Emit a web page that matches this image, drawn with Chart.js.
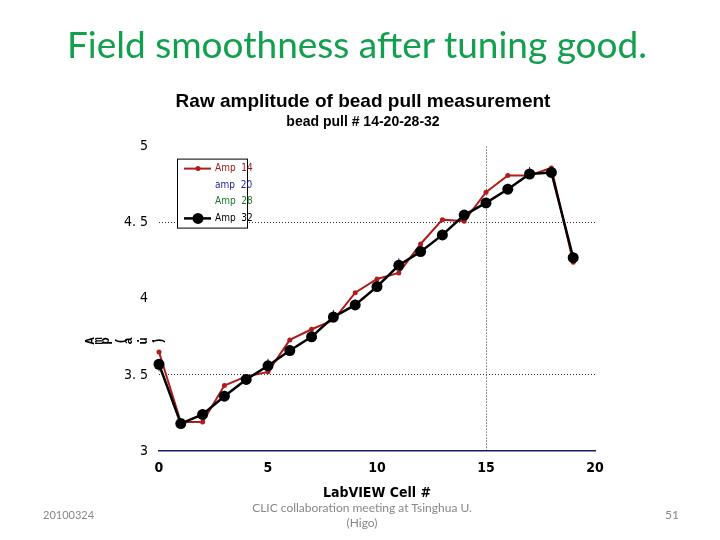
<!DOCTYPE html>
<html>
<head>
<meta charset="utf-8">
<script src="https://cdn.jsdelivr.net/npm/chart.js@4/dist/chart.umd.min.js"></script>
<style>
  html, body { margin: 0; padding: 0; background: #fff; }
  #page { position: relative; width: 720px; height: 540px; overflow: hidden; }
  #chart { position: absolute; left: 0; top: 0; }
  .txt { position: absolute; white-space: nowrap; font-family: Lato, "Open Sans", sans-serif; }
  #slideTitle { left: 0; width: 714px; top: 21px; text-align: center; font-size: 37px; color: #12a04e; }
  #date { left: 43px; top: 508px; font-size: 11px; color: #888; }
  #meeting { left: 0; width: 724px; top: 500px; text-align: center; font-size: 12px; color: #888; line-height: 15px; }
  #pageNo { left: 665px; top: 507px; font-size: 12px; color: #888; }
</style>
</head>
<body>
<div id="page">
  <canvas id="chart" width="720" height="540"></canvas>
  <div class="txt" id="slideTitle">Field smoothness after tuning good.</div>
  <div class="txt" id="date">20100324</div>
  <div class="txt" id="meeting">CLIC collaboration meeting at Tsinghua U.<br>(Higo)</div>
  <div class="txt" id="pageNo">51</div>
</div>
<script>
// bead pull data
var cells = [0, 1, 2, 3, 4, 5, 6, 7, 8, 9, 10, 11, 12, 13, 14, 15, 16, 17, 18, 19];
var amp14 = [3.65, 3.19, 3.19, 3.43, 3.49, 3.52, 3.73, 3.80, 3.86, 4.04, 4.13, 4.17, 4.36, 4.52, 4.51, 4.70, 4.81, 4.81, 4.86, 4.24];
var amp20 = [3.55, 3.18, 3.25, 3.37, 3.48, 3.58, 3.67, 3.77, 3.90, 3.97, 4.10, 4.24, 4.32, 4.43, 4.55, 4.63, 4.73, 4.84, 4.83, 4.28];
var amp28 = [3.56, 3.19, 3.23, 3.36, 3.46, 3.56, 3.65, 3.76, 3.89, 3.95, 4.09, 4.23, 4.31, 4.42, 4.54, 4.62, 4.72, 4.83, 4.82, 4.27];
var amp32 = [3.57, 3.18, 3.24, 3.36, 3.47, 3.56, 3.66, 3.75, 3.88, 3.96, 4.08, 4.22, 4.31, 4.42, 4.55, 4.63, 4.72, 4.82, 4.83, 4.27];
var yTicks = [3, 3.5, 4, 4.5, 5];
var xTicks = [0, 5, 10, 15, 20];
var yGridAt = [3.5, 4.5];
var xGridAt = [15];

function pts(arr) {
    return cells.map(function (c, i) { return { x: c, y: arr[i] }; });
}

// legend box drawn inside the plot, like the LabVIEW one
var boxLegend = {
    id: 'boxLegend',
    afterDatasetsDraw: function (chart) {
        var ctx = chart.ctx;
        var a = chart.chartArea;
        var x0 = a.left + 18, y0 = a.top + 12, w = 70, h = 69;
        ctx.save();
        ctx.fillStyle = '#fff';
        ctx.fillRect(x0, y0, w, h);
        ctx.strokeStyle = '#000';
        ctx.lineWidth = 1;
        ctx.strokeRect(x0 + 0.5, y0 + 0.5, w, h);
        ctx.font = '10px "DejaVu Sans Condensed", "Liberation Sans Narrow", sans-serif';
        ctx.textBaseline = 'middle';
        chart.data.datasets.forEach(function (ds, i) {
            var y = y0 + 10 + i * 16.6;
            if (ds.legendLine) {
                ctx.strokeStyle = ds.borderColor;
                ctx.lineWidth = ds.borderWidth;
                ctx.beginPath();
                ctx.moveTo(x0 + 7, y);
                ctx.lineTo(x0 + 34, y);
                ctx.stroke();
                ctx.fillStyle = ds.borderColor;
                ctx.beginPath();
                ctx.arc(x0 + 21, y, ds.pointRadius, 0, Math.PI * 2);
                ctx.fill();
            }
            ctx.fillStyle = ds.textColor;
            ctx.fillText(ds.label, x0 + 38, y);
        });
        ctx.restore();
    }
};

// garbled sideways y title
var yTitle = {
    id: 'yTitle',
    afterDraw: function (chart) {
        var ctx = chart.ctx;
        var s = 'Amp (a.u.)';
        ctx.save();
        ctx.font = 'bold 12px "Liberation Mono", monospace';
        ctx.fillStyle = '#000';
        ctx.textAlign = 'center';
        ctx.textBaseline = 'middle';
        var x = 91;
        for (var i = 0; i < s.length; i++) {
            ctx.save();
            ctx.translate(x, 341);
            ctx.rotate(-Math.PI / 2);
            ctx.fillText(s[i], 0, 0);
            ctx.restore();
            x += 7.5;
        }
        ctx.restore();
    }
};

var tickFont = '"DejaVu Sans Condensed", "Liberation Sans Narrow", sans-serif';

new Chart(document.getElementById('chart').getContext('2d'), {
    type: 'line',
    data: {
        datasets: [
            { label: 'Amp  14', data: pts(amp14), borderColor: '#b01c1c', backgroundColor: '#b01c1c', textColor: '#a01818',
              borderWidth: 2, pointRadius: 2.5, pointBorderWidth: 0, order: 1, clip: false, legendLine: true },
            { label: 'amp  20', data: pts(amp20), borderColor: '#1a1a8c', backgroundColor: '#1a1a8c', textColor: '#1a1a9c',
              borderWidth: 1, showLine: false, pointStyle: 'cross', pointRadius: 4, pointBorderWidth: 1, order: 2, clip: false, legendLine: false },
            { label: 'Amp  28', data: pts(amp28), borderColor: '#1a7a2a', backgroundColor: '#1a7a2a', textColor: '#1a7a2a',
              borderWidth: 1, showLine: false, pointStyle: 'crossRot', pointRadius: 3, pointBorderWidth: 1, order: 3, clip: false, legendLine: false },
            { label: 'Amp  32', data: pts(amp32), borderColor: '#000', backgroundColor: '#000', textColor: '#000',
              borderWidth: 2.5, pointRadius: 5.5, pointBorderWidth: 0, order: 0, clip: false, legendLine: true }
        ]
    },
    options: {
        responsive: false,
        animation: false,
        layout: { padding: { left: 100, right: 94, top: 90, bottom: 29 } },
        plugins: {
            legend: { display: false },
            tooltip: { enabled: false },
            title: {
                display: true,
                text: 'Raw amplitude of bead pull measurement',
                color: '#000',
                font: { family: '"Liberation Sans", Arial, sans-serif', size: 19, weight: 'bold' },
                padding: { top: 0, bottom: 1 }
            },
            subtitle: {
                display: true,
                text: 'bead pull # 14-20-28-32',
                color: '#000',
                font: { family: '"Liberation Sans", Arial, sans-serif', size: 14, weight: 'bold' },
                padding: { top: 0, bottom: 16 }
            }
        },
        scales: {
            x: {
                type: 'linear',
                min: 0,
                max: 20,
                afterFit: function (s) { s.height = 60; },
                afterBuildTicks: function (s) { s.ticks = xTicks.map(function (v) { return { value: v }; }); },
                border: { display: true, color: '#1a1a5e', width: 1.5, dash: [1, 2] },
                grid: {
                    drawTicks: false,
                    color: function (c) { return xGridAt.indexOf(c.tick && c.tick.value) >= 0 ? '#333' : 'rgba(0,0,0,0)'; }
                },
                ticks: {
                    padding: 9,
                    color: '#000',
                    font: { family: tickFont, size: 14, weight: 'bold' }
                },
                title: {
                    display: true,
                    text: 'LabVIEW Cell #',
                    color: '#000',
                    padding: { top: 0, bottom: 9 },
                    font: { family: tickFont, size: 14, weight: 'bold' }
                }
            },
            y: {
                min: 3,
                max: 5,
                afterFit: function (s) { s.width = 59; },
                afterBuildTicks: function (s) { s.ticks = yTicks.map(function (v) { return { value: v }; }); },
                border: { display: false, dash: [1, 2] },
                grid: {
                    drawTicks: false,
                    color: function (c) { return yGridAt.indexOf(c.tick && c.tick.value) >= 0 ? '#333' : 'rgba(0,0,0,0)'; }
                },
                ticks: {
                    padding: 11,
                    color: '#000',
                    font: { family: tickFont, size: 14 },
                    callback: function (v) { return Number.isInteger(v) ? String(v) : v.toFixed(1).replace('.', '. '); }
                }
            },
            // empty right axis, only to keep the plot where LabVIEW had it
            yRight: {
                position: 'right',
                afterFit: function (s) { s.width = 31; },
                border: { display: false },
                grid: { display: false },
                ticks: { display: false }
            }
        }
    },
    plugins: [boxLegend, yTitle]
});
</script>
</body>
</html>
